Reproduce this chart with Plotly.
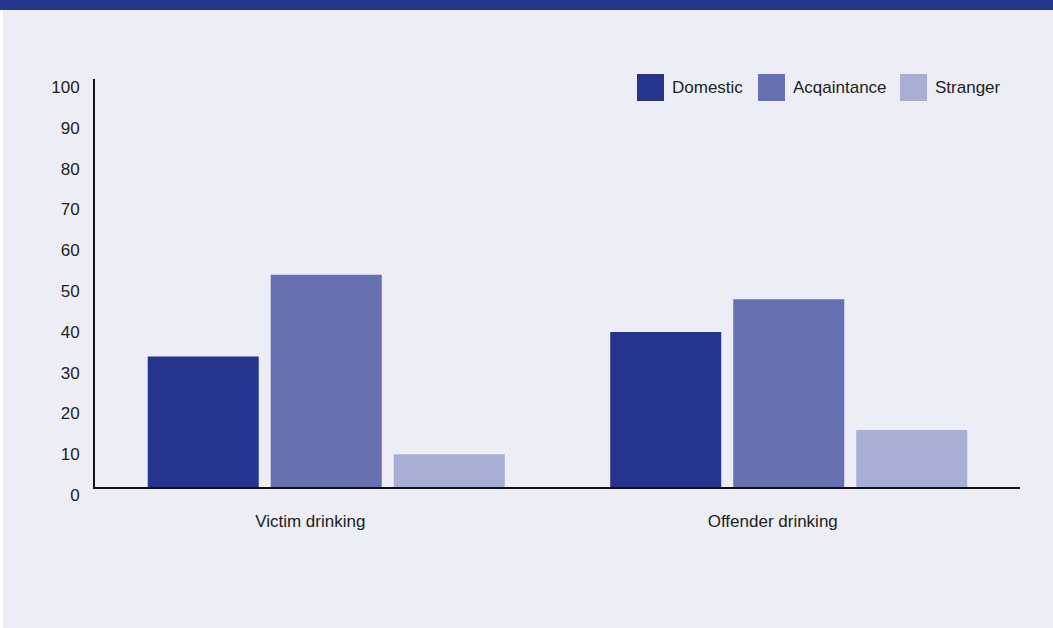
import plotly.graph_objects as go

categories = ["Victim drinking", "Offender drinking"]
series_names = ["Domestic", "Acqaintance", "Stranger"]
domestic = [32, 38]
acquaintance = [52, 46]
stranger = [8, 14]
y_ticks = [0, 10, 20, 30, 40, 50, 60, 70, 80, 90, 100]
colors = ["#25358E", "#6770B0", "#A9AFD3"]

W, H = 1053, 628
L, R, T, B = 95, 33, 79, 141
pw, ph = W - L - R, H - T - B

def px(x):
    return (x - L) / pw

def py(y):
    return (H - B - y) / ph

FONT = "Liberation Sans, Arial, sans-serif"
FS = 17
BG = "#EDEDF6"

fig = go.Figure()
for name, vals, c in zip(series_names, [domestic, acquaintance, stranger], colors):
    fig.add_trace(go.Bar(name=name, x=categories, y=vals, marker=dict(color=c, line=dict(width=0)),
                         showlegend=False))

shapes = [
    dict(type="rect", xref="paper", yref="paper", x0=px(0), x1=px(3), y0=py(628), y1=py(0),
         fillcolor="white", line=dict(width=0), layer="below"),
    dict(type="rect", xref="paper", yref="paper", x0=px(0), x1=px(1053), y0=py(10), y1=py(0),
         fillcolor="#25358E", line=dict(width=0), layer="above"),
]
annotations = []
legend_x = [637, 758, 900]
for name, c, lx in zip(series_names, colors, legend_x):
    shapes.append(dict(type="rect", xref="paper", yref="paper", x0=px(lx), x1=px(lx + 27),
                       y0=py(101), y1=py(74), fillcolor=c, line=dict(width=0)))
    annotations.append(dict(xref="paper", yref="paper", x=px(lx + 33), y=py(87.5), text=name,
                            showarrow=False, xanchor="left", yanchor="middle",
                            font=dict(family=FONT, size=FS, color="#222222")))

fig.update_layout(
    width=W, height=H,
    margin=dict(l=L, r=R, t=T, b=B, pad=0),
    paper_bgcolor=BG, plot_bgcolor=BG,
    barmode="group", bargap=0.202, bargroupgap=0.0976,
    font=dict(family=FONT, size=FS, color="#222222"),
    shapes=shapes, annotations=annotations,
    xaxis=dict(showline=True, linecolor="#111111", linewidth=2, showgrid=False, ticks="",
               ticklabelshift=-16, ticklabelstandoff=18, tickfont=dict(size=FS)),
    yaxis=dict(range=[0, 100], tickvals=y_ticks, showline=True, linecolor="#111111", linewidth=2,
               showgrid=False, zeroline=False, ticks="", ticklabelshift=8, ticklabelstandoff=10,
               tickfont=dict(size=FS)),
)

fig.write_html("out.html", config={"displayModeBar": False},
               post_script="document.body.style.margin='0';")
